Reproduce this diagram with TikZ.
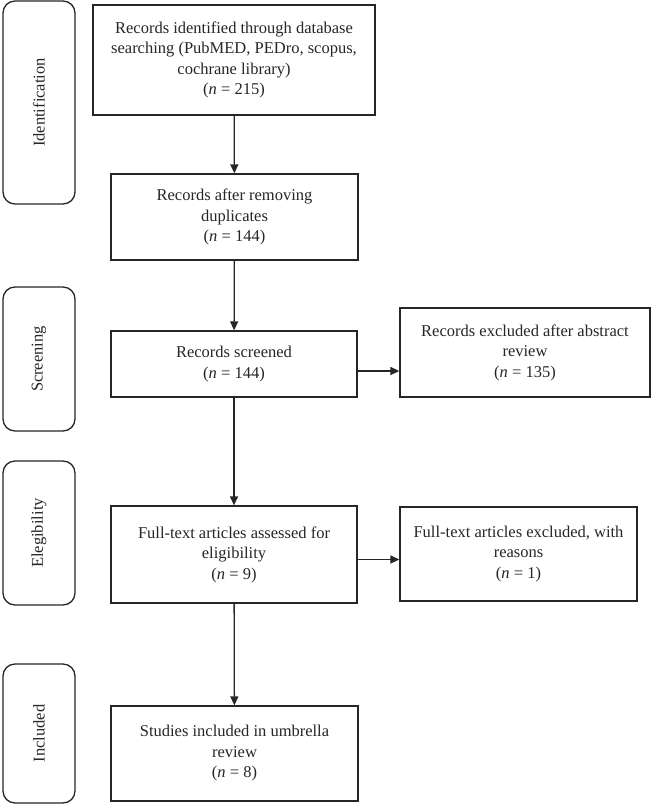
\documentclass[tikz,border=0pt]{standalone}
\usepackage{fontspec}
\setmainfont{Liberation Serif}
\usetikzlibrary{arrows.meta}

\tikzset{
    caja/.style={draw=black!85, line width=1.3pt, align=center, font=\fontsize{16.5}{20.5}\selectfont, text=black!85, inner sep=2pt},
    etapa/.style={draw=black!85, line width=1.3pt, rounded corners=12pt, rotate=90, minimum height=72pt, font=\fontsize{16.5}{18}\selectfont, text=black!85},
    flecha/.style={-{Triangle[length=9pt,width=8pt]}, line width=1.3pt, draw=black!85}
}

\begin{document}
\begin{tikzpicture}[x=1pt, y=-1pt]
    \useasboundingbox (0,0) rectangle (651,804);

    % Etapas
    \node[etapa, minimum width=203pt] (identificacion) at (39,102.5) {Identification};
    \node[etapa, minimum width=144pt] (cribado) at (39,359) {Screening};
    \node[etapa, minimum width=144pt] (elegibilidad) at (39,533) {Elegibility};
    \node[etapa, minimum width=139pt] (incluidos) at (39,733.5) {Included};

    % Cajas principales
    \node[caja, minimum width=282pt, minimum height=110pt] (ident) at (234,60)
        {Records identified through database\\searching (PubMED, PEDro, scopus,\\cochrane library)\\(\textit{n}~=~215)};
    \node[caja, minimum width=247pt, minimum height=86pt] (dupl) at (234.5,217)
        {Records after removing\\duplicates\\(\textit{n}~=~144)};
    \node[caja, minimum width=246pt, minimum height=66pt] (cribados) at (234,364)
        {Records screened\\(\textit{n}~=~144)};
    \node[caja, minimum width=246pt, minimum height=97pt] (texto) at (234,554.5)
        {Full-text articles assessed for\\eligibility\\(\textit{n}~=~9)};
    \node[caja, minimum width=247pt, minimum height=95pt] (estudios) at (234.5,753.5)
        {Studies included in umbrella\\review\\(\textit{n}~=~8)};

    % Cajas de excluidos
    \node[caja, minimum width=250pt, minimum height=89pt] (excabs) at (525,352.5)
        {Records excluded after abstract\\review\\(\textit{n}~=~135)};
    \node[caja, minimum width=237pt, minimum height=94pt] (exctexto) at (518.5,554)
        {Full-text articles excluded, with\\reasons\\(\textit{n}~=~1)};

    % Flechas
    \draw[flecha] (ident) -- (dupl);
    \draw[flecha] (dupl) -- (cribados);
    \draw[flecha] (cribados) -- (texto);
    \draw[flecha] (texto) -- (estudios);
    \draw[flecha] ([yshift=-7pt]cribados.east) -- ([yshift=-7pt]cribados.east -| excabs.west);
    \draw[flecha] ([yshift=-5pt]texto.east) -- ([yshift=-5pt]texto.east -| exctexto.west);
\end{tikzpicture}
\end{document}
